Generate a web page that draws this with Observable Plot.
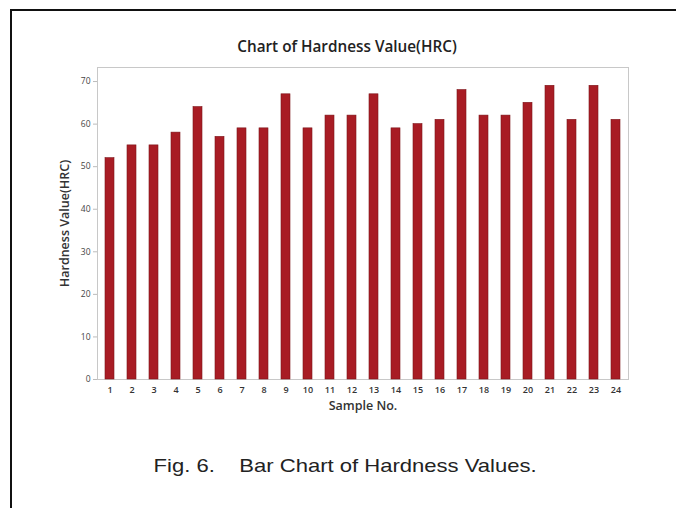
<!DOCTYPE html>
<html>
<head>
<meta charset="utf-8">
<script src="https://cdn.jsdelivr.net/npm/d3@7"></script>
<script src="https://cdn.jsdelivr.net/npm/@observablehq/plot@0.6"></script>
<style>
  html, body { margin: 0; padding: 0; background: #fff; }
  #page { position: relative; width: 676px; height: 508px; overflow: hidden; background: #fff; }
  #border { position: absolute; left: 10px; top: 9px; right: -10px; bottom: -10px; border-left: 2.5px solid #111; border-top: 2.5px solid #111; }
  #title { position: absolute; left: 0; width: 694px; top: 36px; text-align: center; font-family: "Open Sans", sans-serif; font-weight: 600; font-size: 15.3px; color: #222; }
  #chart { position: absolute; left: 0; top: 56px; }
  #caption { position: absolute; left: 0; width: 690px; top: 455px; text-align: center; font-family: "Liberation Sans", Arial, sans-serif; font-size: 19px; color: #222; white-space: pre; }
  #caption span { display: inline-block; transform: scaleX(1.16); }
</style>
</head>
<body>
<div id="page">
  <div id="border"></div>
  <div id="title">Chart of Hardness Value(HRC)</div>
  <div id="chart"></div>
  <div id="caption"><span>Fig. 6.    Bar Chart of Hardness Values.</span></div>
</div>
<script>
const samples = ["1","2","3","4","5","6","7","8","9","10","11","12","13","14","15","16","17","18","19","20","21","22","23","24"];
const hardness = [52,55,55,58,64,57,59,59,67,59,62,62,67,59,60,61,68,62,62,65,69,61,69,61];
const yTicks = [0,10,20,30,40,50,60,70];

const data = samples.map((s, i) => ({sample: s, value: hardness[i]}));

const chart = Plot.plot({
  width: 676,
  height: 370,
  marginLeft: 97,
  marginRight: 48,
  marginTop: 11,
  marginBottom: 47,
  style: {fontFamily: "'Open Sans', sans-serif", fontSize: "8px", color: "#333", background: "transparent"},
  x: {domain: samples, padding: 0.6, paddingOuter: 0.3, label: null},
  y: {domain: [0, 73.3], label: null},
  marks: [
    Plot.frame({stroke: "#c8c8c8", strokeWidth: 1}),
    Plot.barY(data, {x: "sample", y: "value", fill: "#a81c24", stroke: "#7c1419", strokeWidth: 0.6}),
    Plot.axisY({ticks: yTicks, tickSize: 4, tickPadding: 3, stroke: "#bbb", label: null, fontSize: 8.5, fill: "#444"}),
    Plot.axisX({tickSize: 0, tickPadding: 7, label: null, fontSize: 9, fill: "#333", fontWeight: 600}),
    Plot.text(["Sample No."], {frameAnchor: "bottom", dy: 30, text: d => d, fontSize: 12.5, fontWeight: 600, fill: "#333"}),
    Plot.text(["Hardness Value(HRC)"], {frameAnchor: "left", dx: -33, rotate: -90, textAnchor: "middle", text: d => d, fontSize: 12.5, fontWeight: 600, fill: "#333"})
  ]
});
document.getElementById("chart").appendChild(chart);
</script>
</body>
</html>
